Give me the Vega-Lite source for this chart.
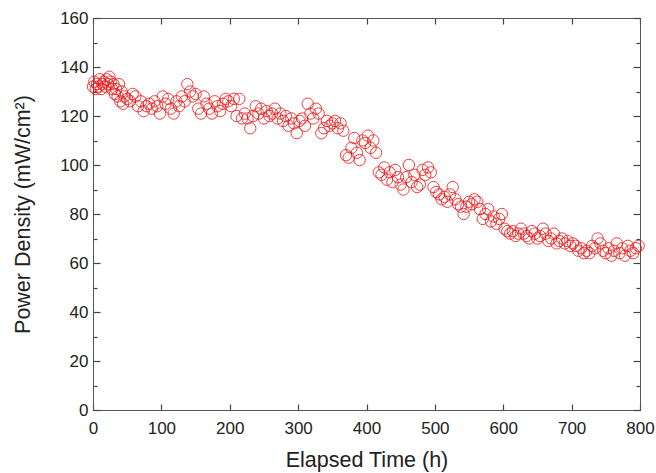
{
  "$schema": "https://vega.github.io/schema/vega-lite/v6.json",
  "width": 547,
  "height": 392,
  "autosize": {"type": "none"},
  "padding": {"left": 93, "top": 18, "right": 16, "bottom": 63},
  "background": "white",
  "config": {
    "view": {"stroke": "#555", "strokeWidth": 1},
    "axis": {
      "labelFont": "Liberation Sans",
      "titleFont": "Liberation Sans",
      "labelFontSize": 17,
      "titleFontSize": 21.5,
      "titleFontWeight": "normal",
      "labelColor": "#222",
      "titleColor": "#222",
      "domainColor": "#555",
      "tickColor": "#444",
      "tickWidth": 1.2,
      "grid": false
    }
  },
  "data": {
    "values": [
      {"t":0,"p":132},{"t":2,"p":134},{"t":4,"p":131},{"t":6,"p":133},{"t":8,"p":132},{"t":10,"p":135},{"t":12,"p":131},{"t":14,"p":133},{"t":16,"p":134},{"t":18,"p":132},
      {"t":20,"p":135},{"t":22,"p":133},{"t":24,"p":136},{"t":26,"p":134},{"t":28,"p":131},{"t":30,"p":133},{"t":32,"p":129},{"t":34,"p":131},{"t":36,"p":128},{"t":38,"p":133},
      {"t":40,"p":126},{"t":42,"p":130},{"t":44,"p":125},{"t":46,"p":128},{"t":50,"p":127},{"t":54,"p":126},{"t":58,"p":129},{"t":62,"p":128},{"t":66,"p":124},{"t":70,"p":126},
      {"t":74,"p":122},{"t":78,"p":124},{"t":82,"p":125},{"t":86,"p":123},{"t":90,"p":126},{"t":94,"p":124},{"t":98,"p":121},{"t":102,"p":128},{"t":106,"p":125},{"t":110,"p":127},
      {"t":114,"p":123},{"t":118,"p":121},{"t":122,"p":126},{"t":126,"p":124},{"t":130,"p":128},{"t":134,"p":126},{"t":138,"p":133},{"t":142,"p":130},{"t":146,"p":128},{"t":150,"p":129},
      {"t":154,"p":123},{"t":158,"p":121},{"t":162,"p":128},{"t":166,"p":125},{"t":170,"p":123},{"t":174,"p":121},{"t":178,"p":126},{"t":182,"p":124},{"t":186,"p":122},{"t":190,"p":125},
      {"t":194,"p":127},{"t":198,"p":126},{"t":202,"p":124},{"t":206,"p":127},{"t":210,"p":120},{"t":214,"p":127},{"t":218,"p":119},{"t":222,"p":121},{"t":226,"p":119},{"t":230,"p":115},
      {"t":234,"p":120},{"t":238,"p":124},{"t":242,"p":121},{"t":246,"p":123},{"t":250,"p":119},{"t":254,"p":122},{"t":258,"p":120},{"t":262,"p":121},{"t":266,"p":123},{"t":270,"p":119},
      {"t":274,"p":121},{"t":278,"p":118},{"t":282,"p":120},{"t":286,"p":116},{"t":290,"p":119},{"t":294,"p":117},{"t":298,"p":113},{"t":302,"p":118},{"t":306,"p":119},{"t":310,"p":116},
      {"t":314,"p":125},{"t":318,"p":121},{"t":322,"p":119},{"t":326,"p":123},{"t":330,"p":121},{"t":334,"p":113},{"t":338,"p":115},{"t":342,"p":118},{"t":346,"p":116},{"t":350,"p":117},
      {"t":354,"p":118},{"t":358,"p":115},{"t":362,"p":117},{"t":366,"p":114},{"t":370,"p":104},{"t":374,"p":103},{"t":378,"p":107},{"t":382,"p":111},{"t":386,"p":105},{"t":390,"p":102},
      {"t":394,"p":110},{"t":398,"p":109},{"t":402,"p":112},{"t":406,"p":107},{"t":410,"p":110},{"t":414,"p":105},{"t":418,"p":97},{"t":422,"p":96},{"t":426,"p":99},{"t":430,"p":94},
      {"t":434,"p":97},{"t":438,"p":93},{"t":442,"p":98},{"t":446,"p":95},{"t":450,"p":92},{"t":454,"p":90},{"t":458,"p":95},{"t":462,"p":100},{"t":466,"p":93},{"t":470,"p":96},
      {"t":474,"p":91},{"t":478,"p":92},{"t":482,"p":98},{"t":486,"p":96},{"t":490,"p":99},{"t":494,"p":97},{"t":498,"p":91},{"t":502,"p":89},{"t":506,"p":88},{"t":510,"p":86},
      {"t":514,"p":87},{"t":518,"p":85},{"t":522,"p":88},{"t":526,"p":91},{"t":530,"p":86},{"t":534,"p":84},{"t":538,"p":83},{"t":542,"p":80},{"t":546,"p":83},{"t":550,"p":85},
      {"t":554,"p":84},{"t":558,"p":86},{"t":562,"p":85},{"t":566,"p":82},{"t":570,"p":78},{"t":574,"p":80},{"t":578,"p":82},{"t":582,"p":77},{"t":586,"p":79},{"t":590,"p":76},
      {"t":594,"p":78},{"t":598,"p":80},{"t":602,"p":74},{"t":606,"p":73},{"t":610,"p":72},{"t":614,"p":73},{"t":618,"p":71},{"t":622,"p":72},{"t":626,"p":74},{"t":630,"p":72},
      {"t":634,"p":71},{"t":638,"p":70},{"t":642,"p":73},{"t":646,"p":72},{"t":650,"p":70},{"t":654,"p":71},{"t":658,"p":74},{"t":662,"p":72},{"t":666,"p":69},{"t":670,"p":70},
      {"t":674,"p":72},{"t":678,"p":68},{"t":682,"p":69},{"t":686,"p":70},{"t":690,"p":68},{"t":694,"p":69},{"t":698,"p":67},{"t":702,"p":68},{"t":706,"p":67},{"t":710,"p":65},
      {"t":714,"p":66},{"t":718,"p":64},{"t":722,"p":65},{"t":726,"p":64},{"t":730,"p":67},{"t":734,"p":66},{"t":738,"p":70},{"t":742,"p":68},{"t":746,"p":65},{"t":750,"p":64},
      {"t":754,"p":66},{"t":758,"p":63},{"t":762,"p":65},{"t":766,"p":68},{"t":770,"p":64},{"t":774,"p":66},{"t":778,"p":63},{"t":782,"p":67},{"t":786,"p":65},{"t":790,"p":64},
      {"t":794,"p":66},{"t":798,"p":67}
    ]
  },
  "layer": [
    {
      "mark": {"type": "point", "shape": "circle", "filled": false, "size": 130, "stroke": "#ee1111", "strokeWidth": 1, "opacity": 0.8, "clip": false},
      "encoding": {
        "x": {"field": "t", "type": "quantitative", "scale": {"domain": [0, 800], "nice": false, "zero": false},
          "axis": {"orient": "bottom", "title": "Elapsed Time (h)", "values": [0,100,200,300,400,500,600,700,800], "tickSize": -6, "labelPadding": 16, "titlePadding": 13, "labelFlush": false}},
        "y": {"field": "p", "type": "quantitative", "scale": {"domain": [0, 160], "nice": false},
          "axis": {"orient": "left", "title": "Power Density (mW/cm²)", "values": [0,10,20,30,40,50,60,70,80,90,100,110,120,130,140,150,160],
            "labelExpr": "datum.value % 20 == 0 ? datum.label : ''",
            "tickSize": {"condition": {"test": "datum.value % 20 == 0", "value": -7}, "value": -4},
            "labelPadding": 12, "titlePadding": 25, "labelFlush": false}}
      }
    },
    {
      "mark": {"type": "point", "opacity": 0},
      "encoding": {
        "x": {"field": "t", "type": "quantitative", "scale": {"domain": [0, 800], "nice": false, "zero": false},
          "axis": {"orient": "top", "title": null, "labels": false, "values": [0,100,200,300,400,500,600,700,800], "tickSize": -6}},
        "y": {"field": "p", "type": "quantitative", "scale": {"domain": [0, 160], "nice": false},
          "axis": {"orient": "right", "title": null, "labels": false, "values": [0,10,20,30,40,50,60,70,80,90,100,110,120,130,140,150,160],
            "tickSize": {"condition": {"test": "datum.value % 20 == 0", "value": -7}, "value": -4}}}
      }
    }
  ],
  "resolve": {"axis": {"x": "independent", "y": "independent"}}
}
